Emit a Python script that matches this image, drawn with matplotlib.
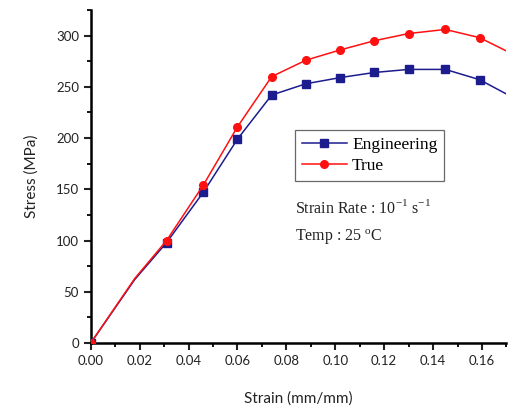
import matplotlib

matplotlib.use("Agg")
import matplotlib.pyplot as plt
from matplotlib.ticker import MultipleLocator

# engineering stress-strain
eng_strain = [0.0, 0.018, 0.031, 0.046, 0.060, 0.074, 0.088, 0.102, 0.116, 0.130, 0.145, 0.159, 0.170]
eng_stress = [0, 62, 98, 147, 199, 242, 253, 259, 264, 267, 267, 257, 243]
eng_marked = [0, 2, 3, 4, 5, 6, 7, 8, 9, 10, 11]

true_strain = [0.0, 0.018, 0.031, 0.046, 0.060, 0.074, 0.088, 0.102, 0.116, 0.130, 0.145, 0.159, 0.170]
true_stress = [0, 63, 100, 154, 211, 260, 276, 286, 295, 302, 306, 298, 285]
true_marked = [0, 2, 3, 4, 5, 6, 7, 8, 9, 10, 11]

SANS = "Lato"
SERIF = "Liberation Serif"

fig = plt.figure(figsize=(5.10, 4.09), dpi=100)
fig.patch.set_facecolor("white")
ax = fig.add_axes([0.178, 0.1614, 0.815, 0.8142])

ax.plot(eng_strain, eng_stress, color="#1c1c8e", lw=1.1, marker="s", ms=5.5,
        markevery=eng_marked, label="Engineering", zorder=3)
ax.plot(true_strain, true_stress, color="#ff1010", lw=1.1, marker="o", ms=5.5,
        markevery=true_marked, label="True", zorder=4)

ax.set_xlim(0, 0.17)
ax.set_ylim(0, 325)
ax.xaxis.set_major_locator(MultipleLocator(0.02))
ax.xaxis.set_minor_locator(MultipleLocator(0.01))
ax.yaxis.set_major_locator(MultipleLocator(50))
ax.yaxis.set_minor_locator(MultipleLocator(25))
ax.xaxis.set_major_formatter(matplotlib.ticker.FormatStrFormatter("%.2f"))

for side in ("top", "right"):
    ax.spines[side].set_visible(False)
for side in ("left", "bottom"):
    ax.spines[side].set_linewidth(1.8)
ax.tick_params(which="major", direction="out", length=5, width=1.5, labelsize=9.5, colors="#222222")
ax.tick_params(which="minor", direction="out", length=3, width=1.3)
for lab in ax.get_xticklabels() + ax.get_yticklabels():
    lab.set_fontfamily(SANS)

ax.set_xlabel("Strain (mm/mm)", fontfamily=SANS, fontsize=11, color="#222222", labelpad=18)
ax.set_ylabel("Stress (MPa)", fontfamily=SANS, fontsize=11, color="#222222", labelpad=12)

leg = ax.legend(loc="upper left", bbox_to_anchor=(0.491, 0.64), prop={"family": SERIF, "size": 12.5},
                frameon=True, fancybox=False, edgecolor="#444444", handlelength=2.6,
                handletextpad=0.3, borderpad=0.4, labelspacing=0.3, borderaxespad=0)
leg.get_frame().set_linewidth(0.9)

ax.text(0.491, 0.39, r"Strain Rate : 10$^{\mathregular{-1}}$ s$^{\mathregular{-1}}$",
        transform=ax.transAxes, fontfamily=SERIF, fontsize=11.5, color="#222222", va="baseline")
ax.text(0.491, 0.306, "Temp : 25 $^{\\mathregular{o}}$C", transform=ax.transAxes,
        fontfamily=SERIF, fontsize=11.5, color="#222222", va="baseline")

fig.savefig("out.png", dpi=100, facecolor="white")
